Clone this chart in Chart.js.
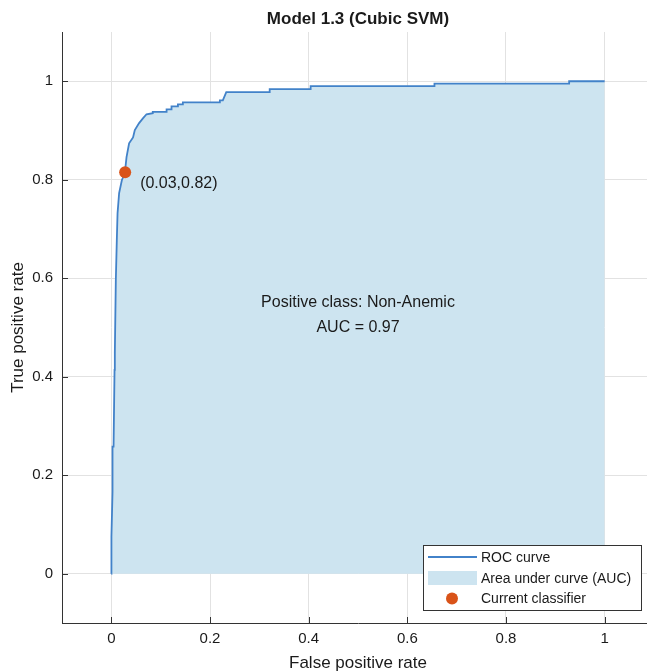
<!DOCTYPE html>
<html>
<head>
<meta charset="utf-8">
<script src="https://cdn.jsdelivr.net/npm/chart.js@4"></script>
<style>
	body { margin: 0; overflow: hidden; background: #fff; }
	#wrap { width: 660px; height: 671px; }
</style>
</head>
<body>
<div id="wrap"><canvas id="roc-chart"></canvas></div>
<script>
// ROC curve corners
const fprValues = [0, 0, 0.0004, 0.0024, 0.0024, 0.0045, 0.0065, 0.0071, 0.0091, 0.0111, 0.0126, 0.0158, 0.0213, 0.0273,
	0.0308, 0.036, 0.044, 0.0476, 0.0563, 0.0644, 0.0713, 0.084, 0.084, 0.112, 0.112, 0.122, 0.122, 0.135, 0.135,
	0.145, 0.145, 0.22, 0.22, 0.226, 0.233, 0.321, 0.321, 0.404, 0.404, 0.655, 0.655, 0.928, 0.928, 1]
const tprValues = [0, 0.028, 0.075, 0.166, 0.258, 0.258, 0.414, 0.448, 0.596, 0.677, 0.732, 0.773, 0.799, 0.813,
	0.846, 0.874, 0.886, 0.901, 0.915, 0.925, 0.933, 0.935, 0.938, 0.938, 0.943, 0.943, 0.949, 0.949, 0.953,
	0.953, 0.957, 0.957, 0.961, 0.961, 0.978, 0.978, 0.984, 0.984, 0.99, 0.99, 0.995, 0.995, 1, 1]

const classifierFpr = [0.028]
const classifierTpr = [0.815]
const classifierLabel = '(0.03,0.82)'

const xTicks = [0, 0.2, 0.4, 0.6, 0.8, 1]
const yTicks = [0, 0.2, 0.4, 0.6, 0.8, 1]

const chartTitle = 'Model 1.3 (Cubic SVM)'
const xTitle = 'False positive rate'
const yTitle = 'True positive rate'
const infoLines = ['Positive class: Non-Anemic', 'AUC = 0.97']
const legendLabels = ['ROC curve', 'Area under curve (AUC)', 'Current classifier']

const lineColor = '#4282c9'
const areaColor = '#cde4f0'
const dotColor = '#d95319'
const axisColor = '#333333'
const textColor = '#1a1a1a'
const fontFamily = '"Liberation Sans", Arial, sans-serif'

const rocPoints = fprValues.map((x, i) => ({ x: x, y: tprValues[i] }))
const classifierPoints = classifierFpr.map((x, i) => ({ x: x, y: classifierTpr[i] }))

/*
Draw texts, inward ticks and legend like MATLAB does
*/
const decorations = {
	id: 'decorations',
	afterDraw(chart) {
		const ctx = chart.ctx
		const area = chart.chartArea
		const xs = chart.scales.x
		const ys = chart.scales.y
		ctx.save()

		// inward tick marks
		ctx.strokeStyle = axisColor
		ctx.lineWidth = 1
		ctx.beginPath()
		xTicks.forEach(v => {
			const px = Math.round(xs.getPixelForValue(v)) + 0.5
			ctx.moveTo(px, area.bottom)
			ctx.lineTo(px, area.bottom - 6)
		})
		yTicks.forEach(v => {
			const py = Math.round(ys.getPixelForValue(v)) + 0.5
			ctx.moveTo(area.left, py)
			ctx.lineTo(area.left + 6, py)
		})
		ctx.stroke()

		const midX = (xs.getPixelForValue(0) + xs.getPixelForValue(1)) / 2
		ctx.fillStyle = textColor
		ctx.textBaseline = 'middle'

		// title
		ctx.textAlign = 'center'
		ctx.font = 'bold 17px ' + fontFamily
		ctx.fillText(chartTitle, midX, 19)

		// axis titles
		ctx.font = '17px ' + fontFamily
		ctx.fillText(xTitle, midX, 663)
		ctx.save()
		ctx.translate(18, (ys.getPixelForValue(0) + ys.getPixelForValue(1)) / 2)
		ctx.rotate(-Math.PI / 2)
		ctx.fillText(yTitle, 0, 0)
		ctx.restore()

		// info text in the middle
		ctx.font = '16px ' + fontFamily
		ctx.fillText(infoLines[0], xs.getPixelForValue(0.5), ys.getPixelForValue(0.55))
		ctx.fillText(infoLines[1], xs.getPixelForValue(0.5), ys.getPixelForValue(0.5))

		// classifier label
		ctx.textAlign = 'left'
		ctx.fillText(classifierLabel, xs.getPixelForValue(classifierFpr[0]) + 15, ys.getPixelForValue(classifierTpr[0]) + 11)

		// legend box
		const lx = 423.5, ly = 545.5, lw = 218, lh = 65
		ctx.fillStyle = '#fff'
		ctx.fillRect(lx, ly, lw, lh)
		ctx.strokeStyle = axisColor
		ctx.strokeRect(lx, ly, lw, lh)

		ctx.strokeStyle = lineColor
		ctx.lineWidth = 2
		ctx.beginPath()
		ctx.moveTo(428, 557)
		ctx.lineTo(477, 557)
		ctx.stroke()

		ctx.fillStyle = areaColor
		ctx.fillRect(428, 571, 49, 14)

		ctx.fillStyle = dotColor
		ctx.beginPath()
		ctx.arc(452, 598.5, 6, 0, Math.PI * 2)
		ctx.fill()

		ctx.fillStyle = textColor
		ctx.font = '14px ' + fontFamily
		ctx.fillText(legendLabels[0], 481, 558)
		ctx.fillText(legendLabels[1], 481, 579)
		ctx.fillText(legendLabels[2], 481, 599)

		ctx.restore()
	}
}

const rocCtx = document.getElementById('roc-chart').getContext('2d')

const rocChart = new Chart(rocCtx, {
	type: 'scatter',
	data: {
		datasets: [
			{
				label: legendLabels[2],
				data: classifierPoints,
				pointRadius: 6,
				pointBackgroundColor: dotColor,
				pointBorderWidth: 0
			},
			{
				label: legendLabels[0],
				data: rocPoints,
				showLine: true,
				borderColor: lineColor,
				borderWidth: 1.8,
				pointRadius: 0,
				fill: false,
				tension: 0
			},
			{
				label: legendLabels[1],
				data: rocPoints,
				showLine: true,
				borderWidth: 0,
				borderColor: 'rgba(0,0,0,0)',
				backgroundColor: areaColor,
				pointRadius: 0,
				fill: 'origin',
				tension: 0
			}
		]
	},
	options: {
		responsive: true,
		maintainAspectRatio: false,
		animation: false,
		layout: {
			padding: { top: 32, right: 6, left: 0, bottom: 0 }
		},
		plugins: {
			legend: { display: false },
			tooltip: { enabled: false }
		},
		scales: {
			x: {
				type: 'linear',
				min: -0.1,
				max: 1.1,
				afterBuildTicks: scale => { scale.ticks = xTicks.map(v => ({ value: v })) },
				afterFit: scale => { scale.height = 48 },
				grid: { color: '#e2e2e2', drawTicks: false },
				border: { color: axisColor, width: 1 },
				ticks: {
					padding: 7,
					color: textColor,
					font: { family: fontFamily, size: 15 },
					callback: v => String(+v.toFixed(1))
				}
			},
			y: {
				type: 'linear',
				min: -0.1,
				max: 1.1,
				afterBuildTicks: scale => { scale.ticks = yTicks.map(v => ({ value: v })) },
				afterFit: scale => { scale.width = 62 },
				grid: { color: '#e2e2e2', drawTicks: false },
				border: { color: axisColor, width: 1 },
				ticks: {
					padding: 9,
					color: textColor,
					font: { family: fontFamily, size: 15 },
					callback: v => String(+v.toFixed(1))
				}
			}
		}
	},
	plugins: [decorations]
})
</script>
</body>
</html>
